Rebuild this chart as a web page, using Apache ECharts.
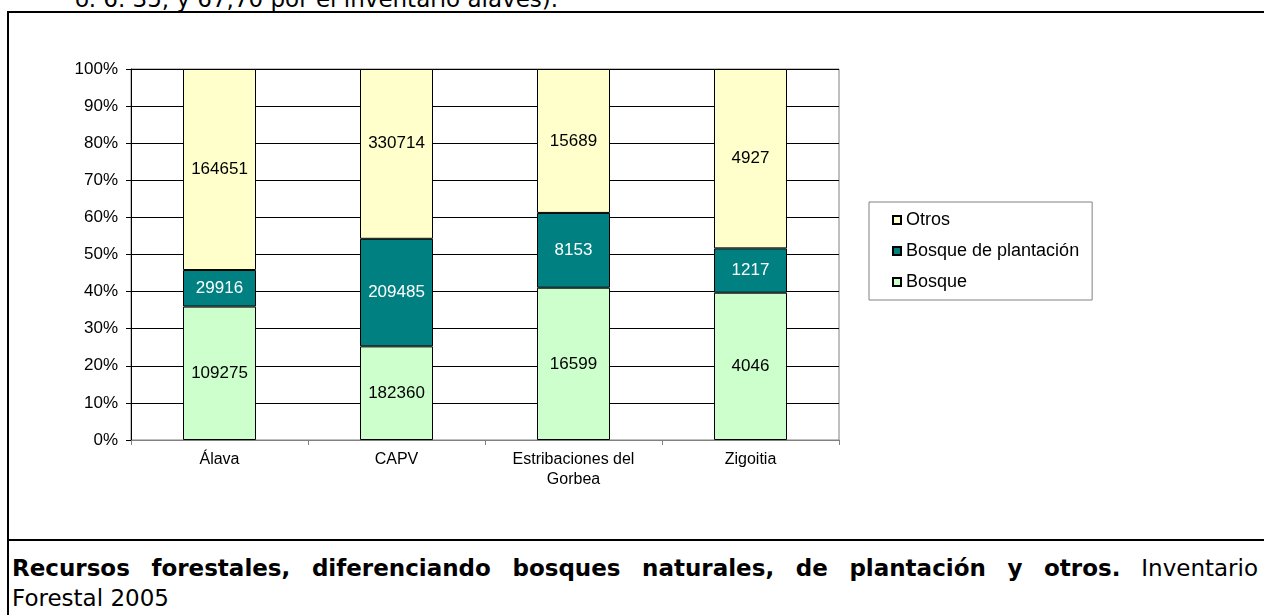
<!DOCTYPE html>
<html>
<head>
<meta charset="utf-8">
<script src="https://cdn.jsdelivr.net/npm/echarts@6/dist/echarts.min.js"></script>
<style>
  html, body { margin: 0; padding: 0; width: 1264px; height: 615px; overflow: hidden; background: #fff; }
  #top-text { position: absolute; left: 75px; top: -16px; font: 23px 'DejaVu Sans'; line-height: 30px; color: #000; white-space: nowrap; }
  #frame { position: absolute; left: 7px; top: 11px; width: 1257px; height: 604px; border-left: 2px solid #000; border-top: 2px solid #000; box-sizing: border-box; }
  #sep { position: absolute; left: 7px; top: 539px; width: 1257px; height: 0; border-top: 2px solid #000; }
  #chart { position: absolute; left: 0; top: 0; width: 1264px; height: 538px; }
  .cap { position: absolute; left: 12px; width: 1246px; font: 23px 'DejaVu Sans'; line-height: 30px; color: #000; white-space: nowrap; }
  #cap1 { top: 553px; text-align: justify; text-align-last: justify; white-space: normal; }
  #cap2 { top: 583px; }
</style>
</head>
<body>
<div id="top-text">o. 6. 35, y 67,70 por el inventario alavés).</div>
<div id="frame"></div>
<div id="sep"></div>
<div id="chart"></div>
<div id="cap1" class="cap"><b>Recursos forestales, diferenciando bosques naturales, de plantación y otros.</b> Inventario</div>
<div id="cap2" class="cap">Forestal 2005</div>
<script>
// hectáreas por zona
const categories = ['Álava', 'CAPV', 'Estribaciones del\nGorbea', 'Zigoitia']
const bosque = [109275, 182360, 16599, 4046]
const plantacion = [29916, 209485, 8153, 1217]
const otros = [164651, 330714, 15689, 4927]
const yTicks = [0, 10, 20, 30, 40, 50, 60, 70, 80, 90, 100]

const totals = categories.map((c, i) => bosque[i] + plantacion[i] + otros[i])
const pct = arr => arr.map((v, i) => ({ value: v / totals[i] * 100, raw: v }))

const font = 'Liberation Sans, Arial, sans-serif'

function barSeries(name, values, color, labelColor) {
  const data = pct(values)
  // Excel dejó la etiqueta de CAPV/Otros algo más arriba
  if (name === 'Otros') data[1].label = { offset: [0, -11] }
  return {
    name: name,
    type: 'bar',
    stack: 'total',
    barWidth: 73,
    data: data,
    itemStyle: { color: color, borderColor: '#000', borderWidth: 1 },
    label: {
      show: true,
      position: 'inside',
      color: labelColor,
      fontFamily: font,
      fontSize: 17,
      formatter: p => p.data.raw
    },
    emphasis: { disabled: true }
  }
}

const chart = echarts.init(document.getElementById('chart'))
chart.setOption({
  animation: false,
  textStyle: { fontFamily: font },
  grid: {
    left: 131,
    top: 69,
    width: 708,
    height: 371,
    show: true,
    borderColor: '#808080',
    borderWidth: 1
  },
  legend: {
    orient: 'vertical',
    left: 869,
    top: 202,
    data: ['Otros', 'Bosque de plantación', 'Bosque'],
    icon: 'rect',
    itemWidth: 8,
    itemHeight: 8,
    itemGap: 11,
    padding: [8, 13, 8, 23],
    borderColor: '#808080',
    borderWidth: 1,
    textStyle: { fontFamily: font, fontSize: 18, color: '#000', lineHeight: 20 }
  },
  xAxis: {
    type: 'category',
    data: categories,
    axisLine: { lineStyle: { color: '#808080' } },
    axisTick: { show: true, length: 5, lineStyle: { color: '#808080' } },
    axisLabel: {
      color: '#000',
      fontSize: 16,
      lineHeight: 20,
      margin: 10,
      fontFamily: font
    }
  },
  yAxis: {
    type: 'value',
    min: 0,
    max: 100,
    interval: 10,
    axisLine: { show: true, lineStyle: { color: '#000' } },
    axisTick: { show: true, length: 5, lineStyle: { color: '#000' } },
    splitLine: { lineStyle: { color: '#000' } },
    axisLabel: {
      color: '#000',
      fontSize: 17,
      margin: 13,
      fontFamily: font,
      formatter: v => (yTicks.includes(v) ? v + '%' : '')
    }
  },
  series: [
    barSeries('Bosque', bosque, '#CCFFCC', '#000'),
    barSeries('Bosque de plantación', plantacion, '#008080', '#fff'),
    barSeries('Otros', otros, '#FFFFCC', '#000')
  ]
})
</script>
</body>
</html>
